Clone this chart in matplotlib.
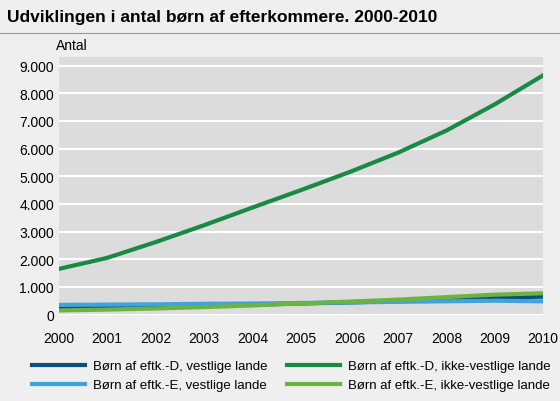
import matplotlib
matplotlib.use("Agg")
import matplotlib.pyplot as plt

years = list(range(2000, 2011))
d_vest = [250, 270, 290, 320, 360, 400, 440, 480, 540, 600, 650]
d_ikke = [1650, 2050, 2620, 3230, 3870, 4500, 5150, 5850, 6650, 7600, 8650]
e_vest = [350, 360, 370, 390, 400, 420, 440, 460, 480, 500, 480]
e_ikke = [150, 180, 220, 270, 330, 400, 470, 540, 630, 720, 770]
yticks = [0, 1000, 2000, 3000, 4000, 5000, 6000, 7000, 8000, 9000]
ylabels = ["0", "1.000", "2.000", "3.000", "4.000", "5.000", "6.000", "7.000", "8.000", "9.000"]

plt.rcParams['font.family'] = ['Liberation Sans', 'DejaVu Sans']
fig = plt.figure(figsize=(5.6, 4.02), dpi=100, facecolor='#efefef')
ax = fig.add_axes([0.105, 0.215, 0.865, 0.64])
ax.set_facecolor('#dcdcdc')
ax.plot(years, d_vest, color='#0d4f7c', lw=3, label='Børn af eftk.-D, vestlige lande')
ax.plot(years, e_vest, color='#3fa3de', lw=3, label='Børn af eftk.-E, vestlige lande')
ax.plot(years, e_ikke, color='#6db33f', lw=3, label='Børn af eftk.-E, ikke-vestlige lande')
ax.plot(years, d_ikke, color='#178a44', lw=3, label='Børn af eftk.-D, ikke-vestlige lande')
ax.set_xlim(2000, 2010)
ax.set_ylim(0, 9300)
ax.set_yticks(yticks, ylabels)
ax.set_xticks(years)
ax.grid(axis='y', color='white', lw=1.5)
ax.set_axisbelow(True)
for s in ax.spines.values():
    s.set_visible(False)
ax.tick_params(length=0, labelsize=10)
ax.tick_params(axis='x', pad=12)
fig.text(0.10, 0.875, 'Antal', fontsize=10)
fig.text(0.012, 0.945, 'Udviklingen i antal børn af efterkommere. 2000-2010', fontsize=12.5, fontweight='bold')
fig.add_artist(plt.Line2D([0, 1], [0.915, 0.915], color='#999999', lw=0.8))
h, l = ax.get_legend_handles_labels()
order = [0, 1, 3, 2]
fig.legend([h[i] for i in order], [l[i] for i in order], loc='lower center', ncol=2,
           frameon=False, fontsize=9.5, bbox_to_anchor=(0.52, -0.005), handlelength=4,
           columnspacing=1.5, handletextpad=0.6)
fig.savefig('out.png', dpi=100, facecolor=fig.get_facecolor())
